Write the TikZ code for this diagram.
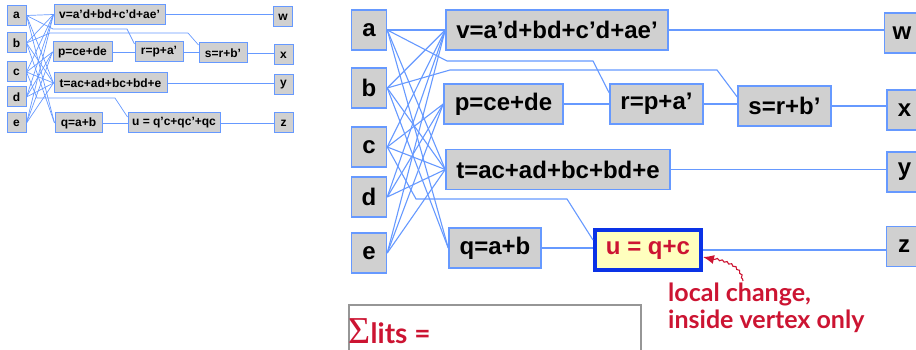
\documentclass[tikz,border=0pt]{standalone}
\usepackage{fontspec}
\setmainfont{Liberation Sans}
\newfontfamily\gill{Lato}
\newfontfamily\serifsig{Liberation Serif}
\usetikzlibrary{arrows.meta,decorations.pathmorphing}
\definecolor{lineblue}{RGB}{102,153,255}
\definecolor{boxgray}{RGB}{208,208,208}
\definecolor{annred}{RGB}{204,20,50}
\definecolor{ublue}{RGB}{10,50,230}
\definecolor{uyellow}{RGB}{255,255,190}
\definecolor{sumgray}{RGB}{150,150,150}
\begin{document}
\begin{tikzpicture}[x=1pt,y=-1pt,
  bigbox/.style={draw=lineblue, line width=1.5pt, fill=boxgray, minimum height=40pt, inner sep=0pt, font=\fontsize{24}{24}\selectfont\bfseries},
  smallbox/.style={draw=lineblue, line width=1pt, fill=boxgray, minimum height=20pt, inner sep=0pt, font=\fontsize{12}{12}\selectfont\bfseries},
  ubox/.style={draw=ublue, line width=4pt, fill=uyellow, minimum height=40pt, minimum width=106pt, inner sep=0pt, text=annred, font=\fontsize{24}{24}\selectfont\bfseries},
  bigwire/.style={draw=lineblue, line width=1.1pt},
  smallwire/.style={draw=lineblue, line width=0.7pt},
  redtext/.style={inner sep=0pt, text=annred},
]
\useasboundingbox (0,0) rectangle (916,350);
\clip (0,0) rectangle (916,350);

% ---------- small thumbnail ----------
\node[smallbox, minimum width=19pt] (sa) at (16.5,15.5) {a};
\node[smallbox, minimum width=19pt] (sb) at (16.5,43) {b};
\node[smallbox, minimum width=19pt] (sc) at (16.5,72) {c};
\node[smallbox, minimum width=19pt] (sd) at (16.5,97) {d};
\node[smallbox, minimum width=19pt] (se) at (16.5,123) {e};
\node[smallbox, minimum width=111pt] (sv) at (109.5,14.5) {v=a’d+bd+c’d+ae’};
\node[smallbox, minimum width=59pt] (sp) at (82.5,52) {p=ce+de};
\node[smallbox, minimum width=48pt] (sr) at (159,52) {r=p+a’};
\node[smallbox, minimum width=48pt] (ss) at (223,53) {s=r+b’};
\node[smallbox, minimum width=113pt] (st) at (110.5,83) {t=ac+ad+bc+bd+e};
\node[smallbox, minimum width=47pt] (sq) at (78.5,123) {q=a+b};
\node[smallbox, minimum width=92pt] (su) at (174,123) {u = q’c+qc’+qc};
\node[smallbox, minimum width=19pt] (sw) at (283,17) {w};
\node[smallbox, minimum width=19pt] (sx) at (283.5,55) {x};
\node[smallbox, minimum width=19pt] (sy) at (283.5,85) {y};
\node[smallbox, minimum width=19pt] (sz) at (283.5,123) {z};

\foreach \i in {sa,sb,sc,sd,se} {
  \draw[smallwire] (\i.east) -- (sv.west);
  \draw[smallwire] (\i.east) -- (st.west);
}
\foreach \i in {sc,sd,se} \draw[smallwire] (\i.east) -- (sp.west);
\foreach \i in {sa,sb} \draw[smallwire] (\i.east) -- (sq.west);
\draw[smallwire] (sa.east) -- (53,29) -- (127,29) -- ([yshift=8pt]sr.west);
\draw[smallwire] (sb.east) -- (50,33) -- (188,33) -- ([yshift=8pt]ss.west);
\draw[smallwire] (sc.east) -- (37,98) -- (115,98) -- ([yshift=6pt]su.west);
\draw[smallwire] (sv.east) -- (sv.east -| sw.west);
\draw[smallwire] (sp.east) -- (sr.west);
\draw[smallwire] (sr.east) -- (sr.east -| ss.west);
\draw[smallwire] (ss.east) -- (ss.east -| sx.west);
\draw[smallwire] (st.east) -- (st.east -| sy.west);
\draw[smallwire] (sq.east) -- (sq.east -| su.west);
\draw[smallwire] (su.east) -- (su.east -| sz.west);

% ---------- large diagram ----------
\node[bigbox, minimum width=35pt] (a) at (369,30) {a};
\node[bigbox, minimum width=35pt] (b) at (369,88) {b};
\node[bigbox, minimum width=35pt] (c) at (369,147) {c};
\node[bigbox, minimum width=35pt] (d) at (369,197) {d};
\node[bigbox, minimum width=35pt] (e) at (369,253) {e};
\node[bigbox, minimum width=222pt] (v) at (557,30) {v=a’d+bd+c’d+ae’};
\node[bigbox, minimum width=119pt] (p) at (503.5,104) {p=ce+de};
\node[bigbox, minimum width=93pt] (r) at (656.5,104) {r=p+a’};
\node[bigbox, minimum width=93pt] (s) at (784.5,106) {s=r+b’};
\node[bigbox, minimum width=224pt] (t) at (558,169.5) {t=ac+ad+bc+bd+e};
\node[bigbox, minimum width=92pt] (q) at (495,248) {q=a+b};
\node[ubox] (u) at (648,250) {u = q+c};
\node[bigbox, minimum width=35pt] (w) at (902,33) {w};
\node[bigbox, minimum width=35pt] (x) at (904.5,110) {x};
\node[bigbox, minimum width=35pt] (y) at (904.5,172) {y};
\node[bigbox, minimum width=35pt] (z) at (904,246.5) {z};

\foreach \i in {a,b,c,d,e} {
  \draw[bigwire] (\i.east) -- (v.west);
  \draw[bigwire] (\i.east) -- (t.west);
}
\foreach \i in {c,d,e} \draw[bigwire] (\i.east) -- (p.west);
\foreach \i in {a,b} \draw[bigwire] (\i.east) -- (q.west);
\draw[bigwire] (a.east) -- (447,61) -- (593,61) -- ([yshift=11pt]r.west);
\draw[bigwire] (b.east) -- (450,70) -- (717,70) -- ([yshift=9pt]s.west);
\draw[bigwire] (c.east) -- (416,199) -- (567,199) -- ([yshift=10pt]u.west);
\draw[bigwire] (v.east) -- (v.east -| w.west);
\draw[bigwire] (p.east) -- (r.west);
\draw[bigwire] (r.east) -- (r.east -| s.west);
\draw[bigwire] (s.east) -- (s.east -| x.west);
\draw[bigwire] (t.east) -- (t.east -| y.west);
\draw[bigwire] (q.east) -- (q.east -| u.west);
\draw[bigwire] (u.east) -- (u.east -| z.west);

% ---------- sum box ----------
\node[draw=sumgray, line width=2pt, fill=white, minimum width=292pt, minimum height=70pt, anchor=north west, inner sep=0pt] (sumbox) at (348,304) {};
\node[redtext, anchor=base west, font=\serifsig\fontsize{38}{38}\selectfont] (sig) at (348,343) {Σ};
\node[redtext, anchor=base west, font=\gill\bfseries\fontsize{28}{28}\selectfont] (lits) at (sig.base east) {lits =};

% ---------- annotation ----------
\node[redtext, anchor=north west, align=left, font=\gill\bfseries\fontsize{25}{27}\selectfont] (note) at (668,283) {local change,\\inside vertex only};
\coordinate (notestart) at (743,281);
\draw[annred, line width=1.1pt, -{Latex[length=11pt,width=9pt]}, decorate,
  decoration={snake, amplitude=0.8pt, segment length=5pt, pre length=2pt, post length=9pt}]
  (notestart) .. controls (740,265) and (725,262) .. ([yshift=-7pt]u.east);
\end{tikzpicture}
\end{document}
